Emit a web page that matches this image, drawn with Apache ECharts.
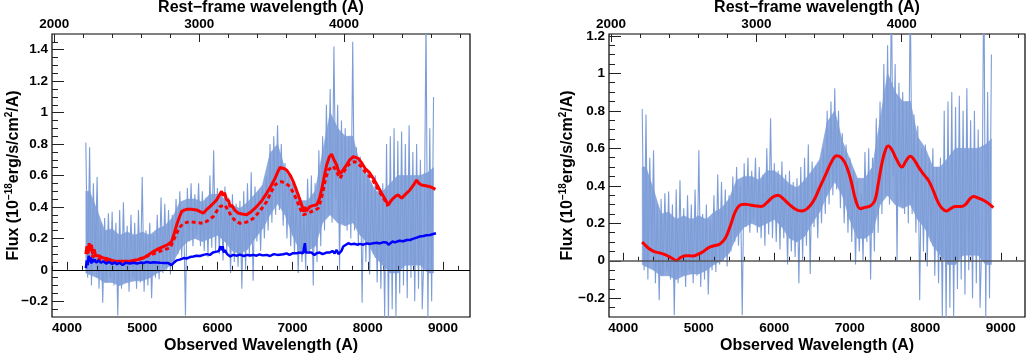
<!DOCTYPE html>
<html>
<head>
<meta charset="utf-8">
<script src="https://cdn.jsdelivr.net/npm/echarts@6/dist/echarts.min.js"></script>
<style>
html,body{margin:0;padding:0;background:#fff;}
#chart{width:1028px;height:354px;}
</style>
</head>
<body>
<div id="chart"></div>
<script>
// ---------------- DATA ----------------
// observed spectrum spikes: sampled every 25 A starting at 4250 A
const specStart = 4250;
const specStep = 25;
const specFlux = [
  0.81,-0.05,0.78,-0.10,0.55,0.05,0.59,-0.12,0.30,-0.21,0.33,-0.08,0.36,-0.05,0.37,-0.10,0.30,-0.29,0.38,-0.12,
  0.43,-0.08,0.28,-0.14,0.35,-0.05,0.30,-0.12,0.38,-0.08,0.59,-0.14,0.25,-0.10,0.30,-0.18,0.22,-0.05,0.35,-0.06,
  0.46,-0.02,0.42,0.00,0.38,-0.03,0.35,0.05,0.45,0.10,0.50,0.08,0.40,-0.29,0.52,0.18,0.55,0.15,0.48,0.22,
  0.55,0.15,0.50,0.12,0.46,0.08,0.60,0.14,0.76,0.12,0.52,0.10,0.48,0.06,0.53,0.12,0.46,-0.02,0.48,0.05,
  0.42,0.02,0.44,-0.12,0.50,0.00,0.55,0.08,0.62,-0.07,0.53,0.18,0.50,0.12,0.52,0.20,0.60,0.25,0.80,0.30,
  0.85,0.35,0.92,0.38,0.80,0.28,0.68,0.20,0.62,0.15,0.55,0.10,0.48,-0.02,0.42,0.05,0.36,0.00,0.58,0.10,
  0.60,-0.10,0.55,0.05,0.76,0.15,0.85,0.25,1.05,0.35,1.15,0.30,1.42,0.45,1.05,0.00,0.95,0.30,0.90,0.25,
  0.85,0.20,1.45,0.25,0.78,0.15,0.72,-0.21,0.60,0.05,0.62,-0.03,0.55,0.10,0.60,-0.08,0.50,-0.12,0.55,-0.30,
  0.80,-0.32,0.85,-0.25,0.90,-0.30,0.82,-0.15,0.88,-0.10,0.80,-0.18,0.92,-0.05,0.75,-0.20,0.80,-0.12,0.70,-0.25,
  0.15,1.60,-0.32,0.90,-0.20,1.10
];

// dense core of the observed spectrum (lower / upper edge)
const coreWave = [4250,4300,4400,4500,4600,4700,4800,4900,5000,5100,5200,5300,5400,5500,5600,5700,5800,5900,6000,6100,
                  6200,6300,6400,6500,6600,6700,6800,6900,7000,7100,7200,7300,7400,7500,7600,7700,7800,7900,8000,8100,
                  8200,8300,8400,8500,8600,8700,8800,8875];
const coreLow  = [-0.02,-0.03,-0.05,-0.08,-0.08,-0.10,-0.08,-0.07,-0.07,-0.05,-0.02,0.00,0.04,0.13,0.18,0.20,0.18,0.20,0.22,0.18,
                  0.12,0.10,0.13,0.20,0.26,0.35,0.42,0.35,0.22,0.12,0.12,0.15,0.30,0.35,0.30,0.28,0.30,0.22,0.17,0.08,
                  0.03,-0.02,-0.02,0.03,0.03,0.03,-0.02,-0.02];
const coreHigh = [0.50,0.50,0.38,0.25,0.26,0.22,0.24,0.22,0.24,0.22,0.26,0.28,0.33,0.43,0.45,0.45,0.43,0.48,0.48,0.45,
                  0.41,0.39,0.43,0.48,0.54,0.74,0.80,0.64,0.54,0.44,0.44,0.50,0.75,1.00,0.90,0.85,0.85,0.66,0.60,0.50,
                  0.50,0.55,0.60,0.60,0.60,0.60,0.62,0.65];

// left panel: total model (solid red)
const modelTotal = [
  [4250,0.10],[4265,0.15],[4280,0.11],[4295,0.17],[4310,0.12],[4325,0.16],[4340,0.10],[4360,0.13],[4380,0.09],[4420,0.09],
  [4483,0.075],[4540,0.07],[4600,0.06],[4660,0.054],[4750,0.055],[4837,0.054],[4920,0.062],[5015,0.075],[5080,0.095],[5148,0.116],
  [5220,0.135],[5281,0.148],[5340,0.16],[5391,0.18],[5425,0.23],[5458,0.286],[5490,0.33],[5524,0.37],[5560,0.38],[5591,0.385],
  [5650,0.385],[5724,0.381],[5770,0.37],[5813,0.36],[5860,0.385],[5901,0.402],[5950,0.425],[5990,0.445],[6020,0.47],[6040,0.46],
  [6056,0.50],[6075,0.47],[6095,0.49],[6123,0.445],[6150,0.44],[6170,0.40],[6190,0.413],[6230,0.38],[6278,0.36],[6330,0.355],
  [6389,0.35],[6450,0.37],[6522,0.402],[6590,0.44],[6655,0.487],[6710,0.53],[6766,0.582],[6800,0.62],[6832,0.651],[6880,0.645],
  [6921,0.635],[6970,0.60],[7009,0.561],[7050,0.51],[7098,0.445],[7130,0.40],[7151,0.37],[7165,0.40],[7180,0.375],[7231,0.402],
  [7280,0.41],[7320,0.413],[7355,0.45],[7386,0.508],[7420,0.59],[7453,0.667],[7490,0.72],[7519,0.736],[7550,0.70],[7586,0.667],
  [7610,0.63],[7639,0.614],[7680,0.64],[7719,0.667],[7760,0.70],[7808,0.72],[7874,0.709],[7920,0.68],[7963,0.646],[8020,0.62],
  [8073,0.582],[8130,0.535],[8184,0.487],[8230,0.45],[8273,0.413],[8310,0.44],[8339,0.455],[8375,0.47],[8406,0.476],[8450,0.455],
  [8500,0.48],[8561,0.508],[8610,0.54],[8650,0.571],[8680,0.55],[8716,0.54],[8770,0.535],[8827,0.529],[8870,0.52],[8900,0.512]
];

// left panel: alternative model (dotted red)
const modelAlt = [
  [4250,0.12],[4300,0.10],[4350,0.085],[4420,0.07],[4500,0.06],[4600,0.052],[4700,0.05],[4800,0.05],[4900,0.06],[5000,0.075],
  [5103,0.095],[5200,0.11],[5281,0.127],[5369,0.138],[5410,0.18],[5458,0.233],[5500,0.27],[5547,0.296],[5635,0.307],[5720,0.30],
  [5813,0.296],[5880,0.315],[5946,0.339],[6000,0.38],[6034,0.402],[6101,0.413],[6140,0.38],[6190,0.339],[6240,0.31],[6300,0.296],
  [6360,0.30],[6411,0.307],[6470,0.325],[6522,0.35],[6590,0.39],[6655,0.434],[6710,0.49],[6766,0.54],[6810,0.555],[6854,0.561],
  [6910,0.55],[6965,0.529],[7010,0.49],[7054,0.445],[7100,0.39],[7143,0.35],[7200,0.36],[7253,0.371],[7300,0.38],[7342,0.392],
  [7375,0.44],[7409,0.508],[7440,0.58],[7475,0.635],[7541,0.66],[7590,0.62],[7630,0.582],[7690,0.63],[7741,0.667],[7790,0.685],
  [7830,0.688],[7880,0.67],[7918,0.656],[7970,0.62],[8029,0.593],[8080,0.56],[8140,0.508],[8184,0.475],[8230,0.44],[8270,0.405]
];

// left panel: host component (solid blue)
const hostComp = [
  [4250,0.01],[4262,0.06],[4275,0.03],[4288,0.09],[4300,0.05],[4312,0.08],[4325,0.04],[4340,0.07],[4355,0.05],[4370,0.065],
  [4390,0.045],[4420,0.06],[4450,0.045],[4483,0.054],[4520,0.04],[4560,0.05],[4600,0.038],[4640,0.048],[4660,0.035],[4700,0.045],
  [4740,0.03],[4780,0.045],[4837,0.04],[4880,0.045],[4930,0.04],[4980,0.046],[5015,0.043],[5060,0.05],[5110,0.045],[5150,0.048],
  [5192,0.047],[5240,0.045],[5300,0.044],[5347,0.043],[5370,0.035],[5391,0.03],[5420,0.045],[5458,0.06],[5500,0.065],[5550,0.075],
  [5590,0.072],[5635,0.081],[5680,0.085],[5720,0.09],[5770,0.088],[5813,0.095],[5860,0.10],[5900,0.095],[5940,0.11],[5990,0.116],
  [6020,0.12],[6040,0.15],[6056,0.125],[6070,0.15],[6085,0.11],[6101,0.125],[6130,0.10],[6150,0.11],[6170,0.085],[6212,0.095],
  [6260,0.09],[6300,0.097],[6350,0.088],[6400,0.095],[6433,0.091],[6480,0.095],[6520,0.09],[6560,0.098],[6600,0.092],[6655,0.095],
  [6700,0.088],[6750,0.10],[6800,0.095],[6877,0.099],[6920,0.105],[6960,0.095],[7000,0.105],[7054,0.106],[7100,0.11],[7140,0.105],
  [7164,0.17],[7175,0.11],[7200,0.105],[7250,0.11],[7290,0.095],[7320,0.106],[7360,0.11],[7400,0.10],[7450,0.11],[7497,0.11],
  [7530,0.12],[7560,0.105],[7586,0.127],[7610,0.10],[7630,0.09],[7650,0.12],[7674,0.148],[7700,0.16],[7741,0.169],[7780,0.162],
  [7820,0.166],[7860,0.16],[7896,0.165],[7940,0.16],[7990,0.168],[8030,0.165],[8073,0.169],[8120,0.172],[8160,0.168],[8210,0.176],
  [8251,0.174],[8275,0.16],[8295,0.17],[8330,0.18],[8360,0.175],[8384,0.18],[8420,0.185],[8470,0.182],[8520,0.19],[8561,0.19],
  [8600,0.197],[8650,0.205],[8694,0.212],[8740,0.215],[8780,0.22],[8827,0.222],[8870,0.228],[8907,0.233]
];

// right panel: smooth fit (red)
const smoothFit = [
  [4250,0.10],[4330,0.068],[4400,0.05],[4480,0.042],[4560,0.032],[4640,0.015],[4700,0.002],[4760,0.018],[4830,0.027],[4920,0.026],
  [4990,0.035],[5060,0.05],[5130,0.07],[5200,0.08],[5280,0.09],[5350,0.12],[5420,0.19],[5480,0.26],[5540,0.295],[5600,0.302],
  [5680,0.298],[5760,0.292],[5830,0.29],[5900,0.31],[5980,0.34],[6050,0.35],[6120,0.33],[6200,0.30],[6280,0.275],[6360,0.266],
  [6440,0.28],[6520,0.32],[6600,0.39],[6680,0.46],[6760,0.53],[6826,0.56],[6900,0.545],[6960,0.50],[7020,0.42],[7080,0.32],
  [7140,0.278],[7200,0.285],[7270,0.292],[7330,0.32],[7380,0.42],[7430,0.53],[7480,0.60],[7510,0.613],[7560,0.59],[7620,0.54],
  [7690,0.50],[7740,0.53],[7800,0.558],[7850,0.54],[7910,0.50],[7980,0.46],[8040,0.43],[8100,0.38],[8160,0.32],[8220,0.28],
  [8280,0.266],[8340,0.28],[8400,0.29],[8470,0.29],[8530,0.30],[8590,0.33],[8640,0.343],[8700,0.335],[8770,0.323],[8840,0.305],
  [8900,0.284]
];

// tick values
const obsMajor = [4000,5000,6000,7000,8000,9000];
const obsMinor = [3800,4200,4400,4600,4800,5200,5400,5600,5800,6200,6400,6600,6800,7200,7400,7600,7800,8200,8400,8600,8800,9200];
const restMajor = [2000,3000,4000];
const restMinor = [2200,2400,2600,2800,3200,3400,3600,3800,4200,4400,4600,4800];
const fluxMajorLeft = [-0.2,0,0.2,0.4,0.6,0.8,1,1.2,1.4];
const fluxMajorRight = [-0.2,0,0.2,0.4,0.6,0.8,1,1.2];
const fluxMinor = [-0.25,-0.15,-0.1,-0.05,0.05,0.1,0.15,0.25,0.3,0.35,0.45,0.5,0.55,0.65,0.7,0.75,0.85,0.9,0.95,
                   1.05,1.1,1.15,1.25,1.3,1.35,1.45,1.5];

// ---------------- CHART ----------------
const FONT = "'Liberation Sans', Arial, Helvetica, sans-serif";
const SPEC = '#7d9dd8';
const specData = specFlux.map((v, i) => [specStart + i * specStep, v]);
const coreData = coreWave.map((w, i) => [w, coreLow[i], coreHigh[i]]);

function xAxesFor(grid, oMin, oMax, rMin, rMax) {
  const base = {
    type: 'value', gridIndex: grid, splitLine: {show: false}, axisLine: {show: false}, nameMoveOverlap: false
  };
  const lab = {fontFamily: FONT, fontWeight: 'bold', fontSize: 13.5, color: '#000', margin: 4, formatter: v => String(v)};
  const nameStyle = {fontFamily: FONT, fontWeight: 'bold', fontSize: 16, color: '#000'};
  return [
    Object.assign({}, base, {position: 'bottom', min: oMin, max: oMax,
      axisTick: {show: true, inside: true, length: 8, customValues: obsMajor, lineStyle: {color: '#222', width: 1}},
      axisLabel: Object.assign({customValues: obsMajor}, lab),
      name: 'Observed Wavelength (A)', nameLocation: 'middle', nameGap: 21, nameTextStyle: nameStyle}),
    Object.assign({}, base, {position: 'bottom', min: oMin, max: oMax,
      axisTick: {show: true, inside: true, length: 4, customValues: obsMinor, lineStyle: {color: '#222', width: 1}},
      axisLabel: {show: false}}),
    Object.assign({}, base, {position: 'top', min: rMin, max: rMax,
      axisTick: {show: true, inside: true, length: 8, customValues: restMajor, lineStyle: {color: '#222', width: 1}},
      axisLabel: Object.assign({customValues: restMajor}, lab, {margin: 3}),
      name: 'Rest\u2212frame wavelength (A)', nameLocation: 'middle', nameGap: 18, nameTextStyle: nameStyle}),
    Object.assign({}, base, {position: 'top', min: rMin, max: rMax,
      axisTick: {show: true, inside: true, length: 4, customValues: restMinor, lineStyle: {color: '#222', width: 1}},
      axisLabel: {show: false}})
  ];
}

function yAxesFor(grid, yMin, yMax, major, gap) {
  const base = {type: 'value', gridIndex: grid, position: 'left', min: yMin, max: yMax,
    splitLine: {show: false}, axisLine: {show: false}, nameMoveOverlap: false};
  const minor = fluxMinor.filter(v => v > yMin && v < yMax);
  return [
    Object.assign({}, base, {
      axisTick: {show: true, inside: true, length: 12, customValues: major, lineStyle: {color: '#222', width: 1}},
      axisLabel: {customValues: major, fontFamily: FONT, fontWeight: 'bold', fontSize: 13.5, color: '#000', margin: 4,
        formatter: v => (v < 0 ? '\u2212' + String(-v) : String(v))},
      name: '{n|Flux (10}{s|\u221218}{n|erg/s/cm}{s|2}{n|/A)}',
      nameLocation: 'middle', nameGap: gap,
      nameTextStyle: {rich: {
        n: {fontFamily: FONT, fontWeight: 'bold', fontSize: 16, color: '#000', lineHeight: 20},
        s: {fontFamily: FONT, fontWeight: 'bold', fontSize: 10, color: '#000', lineHeight: 12, verticalAlign: 'top'}
      }}
    }),
    Object.assign({}, base, {
      axisTick: {show: true, inside: true, length: 6, customValues: minor, lineStyle: {color: '#222', width: 1}},
      axisLabel: {show: false}
    })
  ];
}

const zeroLine = (color, w) => ({
  silent: true, symbol: 'none', label: {show: false}, animation: false,
  lineStyle: {color: color, width: w, type: 'solid'}, data: [{yAxis: 0}]
});

function coreRender(params, api) {
  const i = params.dataIndex;
  if (i >= coreData.length - 1) return null;
  const a = coreData[i], b = coreData[i + 1];
  const pts = [api.coord([a[0], a[1]]), api.coord([a[0], a[2]]), api.coord([b[0], b[2]]), api.coord([b[0], b[1]])];
  return {type: 'polygon', shape: {points: pts},
    style: {fill: SPEC, stroke: SPEC, lineWidth: 0.6, opacity: 0.88}};
}

function spectrumSeries(xi, yi, zeroColor, zeroW) {
  return [
    {type: 'custom', xAxisIndex: xi, yAxisIndex: yi, data: coreData, renderItem: coreRender,
      encode: {x: 0, y: [1, 2]}, clip: true, silent: true, z: 0},
    {type: 'line', xAxisIndex: xi, yAxisIndex: yi, data: specData, showSymbol: false,
      lineStyle: {color: SPEC, width: 1.1}, markLine: zeroLine(zeroColor, zeroW), z: 1}
  ];
}

const option = {
  animation: false,
  backgroundColor: '#fff',
  grid: [
    {left: 52, right: 558, top: 34, bottom: 37, show: true, borderColor: '#000', borderWidth: 1.2,
      containLabel: false, outerBoundsMode: 'none'},
    {left: 609, right: 3, top: 34, bottom: 37, show: true, borderColor: '#000', borderWidth: 1.2,
      containLabel: false, outerBoundsMode: 'none'}
  ],
  xAxis: [].concat(
    xAxesFor(0, 3800, 9360, 1984, 4870),
    xAxesFor(1, 3810, 9320, 1986, 4848)
  ),
  yAxis: [].concat(
    yAxesFor(0, -0.3, 1.5, fluxMajorLeft, 28),
    yAxesFor(1, -0.3, 1.21, fluxMajorRight, 31)
  ),
  series: [].concat(
    spectrumSeries(0, 0, '#000', 1),
    [
      {type: 'line', xAxisIndex: 0, yAxisIndex: 0, data: modelAlt, showSymbol: false,
        lineStyle: {color: '#ff0000', width: 3, type: [4, 3]}, z: 2},
      {type: 'line', xAxisIndex: 0, yAxisIndex: 0, data: modelTotal, showSymbol: false,
        lineStyle: {color: '#ff0000', width: 3}, z: 3},
      {type: 'line', xAxisIndex: 0, yAxisIndex: 0, data: hostComp, showSymbol: false,
        lineStyle: {color: '#0000ff', width: 2.5}, z: 4}
    ],
    spectrumSeries(4, 2, '#555', 1.5),
    [
      {type: 'line', xAxisIndex: 4, yAxisIndex: 2, data: smoothFit, showSymbol: false, smooth: 0.4,
        lineStyle: {color: '#ff0000', width: 3}, z: 3}
    ]
  )
};

const chart = echarts.init(document.getElementById('chart'), null, {renderer: 'canvas'});
chart.setOption(option);
</script>
</body>
</html>
